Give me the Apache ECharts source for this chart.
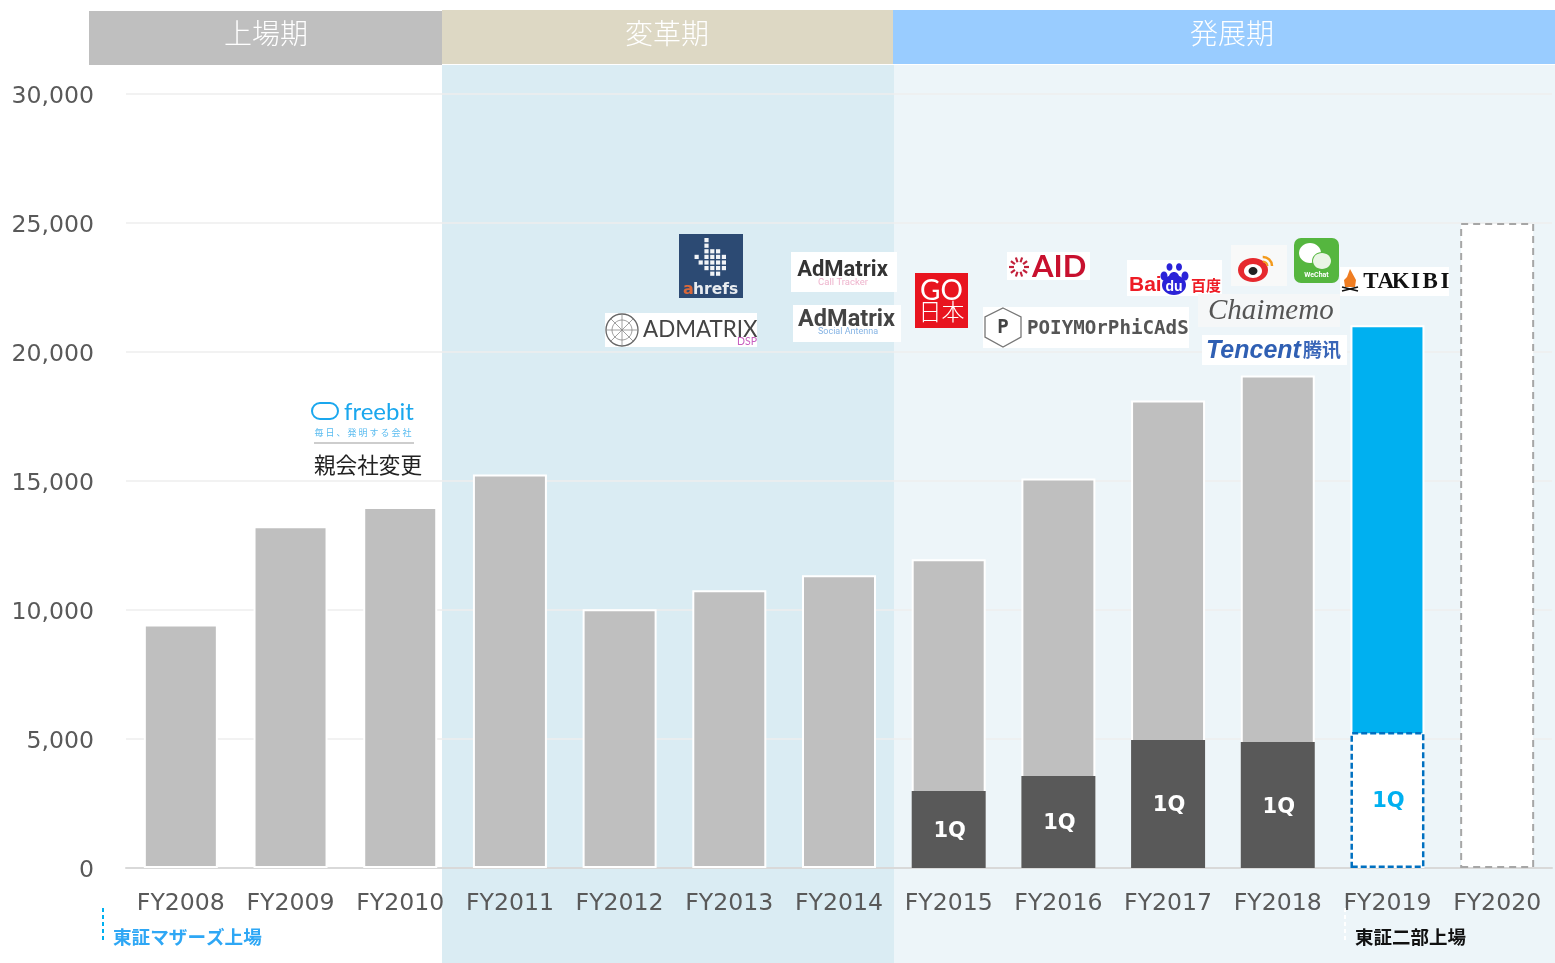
<!DOCTYPE html>
<html>
<head>
<meta charset="utf-8">
<style>html,body{margin:0;padding:0;background:#fff;overflow:hidden}#c{width:1555px;height:963px}</style>
<script src="https://cdn.jsdelivr.net/npm/echarts@6/dist/echarts.min.js"></script>
</head>
<body>
<div id="c"></div>
<script>
const categories = ['FY2008','FY2009','FY2010','FY2011','FY2012','FY2013','FY2014','FY2015','FY2016','FY2017','FY2018','FY2019','FY2020'];
const fullYear = [9440,13250,13990,15250,10030,10770,11350,11970,15100,18120,19090,21040,25000];
const firstQuarter = [null,null,null,null,null,null,null,2985,3565,4960,4880,5270,null];
const yTicks = {min:0,max:30000,interval:5000};
const currentYear = 'FY2019', forecastYear = 'FY2020';

const JP = '"Noto Sans CJK JP"';
const g = [];
const rect = (x,y,w,h,fill,z,r)=>g.push({type:'rect',z:z,shape:{x,y,width:w,height:h,r:r||0},style:{fill}});
const text = (x,y,t,font,fill,align,z)=>g.push({type:'text',z:z||100,style:{x,y,text:t,font,fill,textAlign:align||'left',textVerticalAlign:'middle'}});
const line = (x1,y1,x2,y2,stroke,w,dash,z)=>g.push({type:'line',z:z||100,shape:{x1,y1,x2,y2},style:{stroke,lineWidth:w,lineDash:dash||null}});
const ell = (cx,cy,rx,ry,fill,stroke,w)=>g.push({type:'ellipse',z:100,shape:{cx,cy,rx,ry},style:{fill:fill||'transparent',stroke:stroke||null,lineWidth:w||0}});
const spaced = (x,y,t,step,font,fill)=>[...t].forEach((c,i)=>text(x+i*step,y,c,font,fill,'center'));

// period bands and headers
rect(442,65,452,898,'#daecf3',-10);
rect(894,65,661,898,'#edf5f9',-10);
rect(89,11,353,54,'#bfbfbf',-9);
rect(442,10,451,54,'#ddd8c4',-9);
rect(893,10,662,54,'#99ccff',-9);
text(266,33,'上場期','300 28px '+JP,'#fff','center');
text(667,33,'変革期','300 28px '+JP,'#fff','center');
text(1232,33,'発展期','300 28px '+JP,'#fff','center');

// bottom notes
line(103,908,103,942,'#00b0f0',2,[4,3]);
text(113,937,'東証マザーズ上場','bold 18.6px '+JP,'#2ea7f5');
line(1345,908,1345,941,'#ffffff',2,[4,3]);
text(1355,937,'東証二部上場','bold 18.5px '+JP,'#111');

// freebit
g.push({type:'rect',z:100,shape:{x:312,y:403,width:26,height:16,r:8},style:{fill:'transparent',stroke:'#1aa7ee',lineWidth:2}});
text(344,412,'freebit','24px Lato','#1aa7ee');
spaced(319,433,'毎日、発明する会社',11,'9px '+JP,'#5bbcf0');
line(314,443,414,443,'#bdbdbd',1.5);
text(314,465,'親会社変更','21.6px '+JP,'#222');

// ahrefs
rect(679,234,64,64,'#2c4a73',100);
[[0,[0]],[1,[0]],[2,[0,1,2]],[3,[-1.7,0,1,2,3]],[4,[-1,0,1,2,3]],[5,[0,1,2,3]],[6,[1,2]]].forEach(([r,cols])=>cols.forEach(c=>rect(704.4+c*5.8,238+r*5.6,4.2,4.2,'#f2f4f7',101)));
text(683,290,'a','bold 16px "DejaVu Sans"','#d9683a');
text(693,290,'hrefs','bold 15.5px "DejaVu Sans"','#e8ecf0');

// ADMATRIX DSP
rect(605,313,152,34,'#ffffff',100);
ell(622,330,16,16,null,'#666',1.3);
ell(622,330,10,10,null,'#888',.8);
for(let i=0;i<4;i++){const a=i*Math.PI/4;line(622-16*Math.cos(a),330-16*Math.sin(a),622+16*Math.cos(a),330+16*Math.sin(a),'#888',.8,null,101);}
text(643,330,'ADMATRIX','22.4px Lato','#444');
text(737,342,'DSP','10.5px Lato','#c85fc0');

// AdMatrix products
rect(791,252,106,40,'#ffffff',100);
text(842.5,270,'AdMatrix','bold 22px Roboto','#333','center');
text(843,283,'Call Tracker','9.5px Roboto','#eeb3cc','center');
rect(793,305,108,37,'#ffffff',100);
text(846.5,320,'AdMatrix','bold 23.5px Roboto','#444','center');
text(848,332,'Social Antenna','9px Roboto','#86b4e4','center');

// GO Japan
rect(915,273,53,55,'#e8141f',100);
text(941.5,291,'GO','28px Lato','#fff','center');
text(941.5,311,'日本','300 23px '+JP,'#fff','center');

// AID
rect(1007,252,83,28,'#ffffff',100);
for(let i=0;i<10;i++){const a=i*Math.PI/5;line(1019+5*Math.cos(a),267+5*Math.sin(a),1019+10*Math.cos(a),267+10*Math.sin(a),'#c2203a',2.2,null,101);}
text(1032,267,'AID','bold 31px Lato','#c8102e');

// Baidu
rect(1127,260,95,36,'#ffffff',100);
text(1129,285,'Bai','bold 21px "Liberation Sans"','#ee1c25');
ell(1174,285,12,10,'#2a22d8');ell(1174,277,5,5,'#2a22d8');ell(1164,276,3.5,4.5,'#2a22d8');ell(1185,276,3.5,4.5,'#2a22d8');ell(1169.5,267,3,3.8,'#2a22d8');ell(1179,267,3,3.8,'#2a22d8');
text(1174,287,'du','bold 14px "Liberation Sans"','#fff','center');
text(1191,285,'百度','bold 15px '+JP,'#ee1c25');

// Weibo
rect(1231,245,56,41,'#f8f9f9',100);
ell(1253,270,15,12,'#e6292e');
ell(1253,271,9,7,'#fff');
ell(1253,271,4.5,4,'#222');
g.push({type:'arc',z:100,shape:{cx:1263,cy:266,r:9,startAngle:-1.6,endAngle:0,clockwise:true},style:{fill:'none',stroke:'#f39a1d',lineWidth:2.5}});
g.push({type:'arc',z:100,shape:{cx:1263,cy:266,r:4.5,startAngle:-1.6,endAngle:0,clockwise:true},style:{fill:'none',stroke:'#f39a1d',lineWidth:2}});

// WeChat
rect(1294,238,45,45,'#55b63f',100,7);
ell(1310,253,11,10,'#fff');
ell(1322,261,10,9,'#55b63f');
ell(1322,261,9,8,'#e9f5e5');
text(1316.5,275,'WeChat','bold 7px Roboto','#fff','center');

// TAKIBI
rect(1340,267,109,29,'#ffffff',100);
g.push({type:'polygon',z:101,shape:{points:[[1350,269],[1356,280],[1355,287],[1345,287],[1344,280],[1347,277]]},style:{fill:'#ef7d22'}});
line(1342,291,1358,287,'#111',1.5);line(1342,287,1358,291,'#111',1.5);
spaced(1371,282,'TAKIBI',14.8,'bold 23px "Liberation Serif"','#111');

// Chaimemo
rect(1198,294,142,33,'#f5f7f8',100);
text(1208,311,'Chaimemo','italic 29px "Liberation Serif"','#555');

// polymorphicads
rect(983,307,206,41,'#ffffff',100);
g.push({type:'polygon',z:101,shape:{points:[[1003,308],[1021,317],[1021,337],[1003,347],[985,337],[985,317]]},style:{fill:'#fff',stroke:'#777',lineWidth:1.3}});
text(1003,328,'P','bold 19px "DejaVu Sans Mono"','#444','center',102);
text(1027,329,'POIYMOrPhiCAdS','bold 19.2px "DejaVu Sans Mono"','#555');

// Tencent
rect(1202,335,145,30,'#ffffff',100);
text(1206,351,'Tencent','italic bold 25px "Liberation Sans"','#2f5fb3');
text(1303,350,'腾讯','bold 19px '+JP,'#3a66b8');

const base = {type:'bar',barGap:'-100%',barWidth:74};
const fullData = categories.map((c,i)=>({
  value: fullYear[i],
  itemStyle: c===forecastYear
    ? {color:'#fff',borderColor:'#a6a6a6',borderWidth:2,borderType:[7,5]}
    : {color: c===currentYear ? '#00b0f0' : '#bfbfbf',borderColor:'#fff',borderWidth:2}
}));
const q1Data = categories.map((c,i)=>({
  value: firstQuarter[i],
  itemStyle: c===currentYear
    ? {color:'#fff',borderColor:'#0070c0',borderWidth:2.5,borderType:[6,3]}
    : {color:'#595959'},
  label:{color: c===currentYear ? '#00b0f0' : '#fff'}
}));

const chart = echarts.init(document.getElementById('c'),null,{renderer:'canvas'});
chart.setOption({
  animation:false,
  backgroundColor:'#fff',
  grid:{left:126,right:3,top:94,bottom:95,containLabel:false},
  xAxis:{type:'category',data:categories,
    axisTick:{show:false},
    axisLine:{lineStyle:{color:'#d9d9d9',width:2}},
    axisLabel:{color:'#595959',fontSize:23.6,fontFamily:'"DejaVu Sans"',margin:24,interval:0}},
  yAxis:{type:'value',min:yTicks.min,max:yTicks.max,interval:yTicks.interval,
    axisLine:{show:false},axisTick:{show:false},
    splitLine:{lineStyle:{color:'#eeeeee',width:1.5}},
    axisLabel:{color:'#595959',fontSize:23.6,fontFamily:'"DejaVu Sans"',margin:32,
      verticalAlign:'top',lineHeight:24,padding:[-9.5,0,0,0],
      formatter:v=>v.toLocaleString('en-US')}},
  series:[
    Object.assign({},base,{name:'通期',data:fullData,z:2}),
    Object.assign({},base,{name:'1Q',data:q1Data,z:3,
      label:{show:true,position:'inside',offset:[1,2],formatter:'1Q',fontSize:21,fontWeight:'bold',fontFamily:'"DejaVu Sans"'}})
  ],
  graphic:{elements:g}
});
</script>
</body>
</html>
